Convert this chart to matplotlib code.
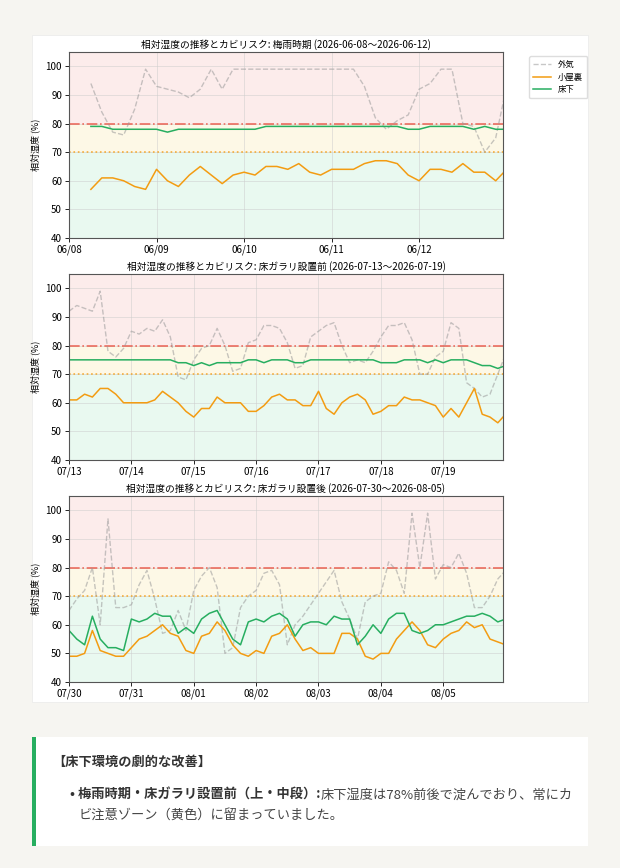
import matplotlib
matplotlib.use("Agg")
import matplotlib.pyplot as plt
import matplotlib.dates as mdates
from matplotlib.patches import Rectangle
import numpy as np
import datetime as dt

plt.rcParams['font.family'] = ['Noto Sans CJK JP', 'DejaVu Sans']

# ---- data (3-hour steps) ----
p1_start = "2026-06-08 06:00"
p1_out = [94,84,77,76,85,99, 93,92,91,89,92,99,92,99, 99,99,99,99,99,99,99,99,
          99,99,99,93,82,78,81,83, 92,94,99,99,80,79,70,75, 93]
p1_attic = [57,61,61,60,58,57, 64,60,58,62,65,62,59,62, 63,62,65,65,64,66,63,62,
            64,64,64,66,67,67,66,62, 60,64,64,63,66,63,63,60, 64]
p1_floor = [79,79,78,78,78,78, 78,77,78,78,78,78,78,78, 78,78,79,79,79,79,79,79,
            79,79,79,79,79,79,79,78, 78,79,79,79,79,78,79,78, 78]

p2_start = "2026-07-13 00:00"
p2_out = [92,94,93,92,99,78,76,79, 85,84,86,85,89,83,69,68, 75,79,80,86,80,71,72,81,
          82,87,87,86,81,72,73,83, 85,87,88,80,74,75,74,78, 83,87,87,88,82,70,70,76,
          78,88,86,67,65,62,63,70, 77]
p2_attic = [61,61,63,62,65,65,63,60, 60,60,60,61,64,62,60,57, 55,58,58,62,60,60,60,57,
            57,59,62,63,61,61,59,59, 64,58,56,60,62,63,61,56, 57,59,59,62,61,61,60,59,
            55,58,55,60,65,56,55,53, 56]
p2_floor = [75,75,75,75,75,75,75,75, 75,75,75,75,75,75,74,74, 73,74,73,74,74,74,74,75,
            75,74,75,75,75,74,74,75, 75,75,75,75,75,75,75,75, 74,74,74,75,75,75,74,75,
            74,75,75,75,74,73,73,72, 73]

p3_start = "2026-07-30 00:00"
p3_out = [65,69,72,80,60,97,66,66, 67,74,79,69,57,58,65,58, 72,77,80,73,50,52,66,70,
          72,78,79,74,53,60,63,67, 71,75,79,68,62,55,68,70, 71,82,79,71,99,80,99,76,
          81,80,85,78,66,66,70,76, 79]
p3_attic = [49,49,50,58,51,50,49,49, 52,55,56,58,60,57,56,51, 50,56,57,61,58,53,50,49,
            51,50,56,57,60,55,51,52, 50,50,50,57,57,55,49,48, 50,50,55,58,61,58,53,52,
            55,57,58,61,59,60,55,54, 53]
p3_floor = [58,55,53,63,55,52,52,51, 62,61,62,64,63,63,57,59, 57,62,64,65,60,55,53,61,
            62,61,63,64,62,56,60,61, 61,60,63,62,62,53,56,60, 57,62,64,64,58,57,58,60,
            60,61,62,63,63,64,63,61, 62]

titles = ["相対湿度の推移とカビリスク: 梅雨時期 (2026-06-08～2026-06-12)",
          "相対湿度の推移とカビリスク: 床ガラリ設置前 (2026-07-13～2026-07-19)",
          "相対湿度の推移とカビリスク: 床ガラリ設置後 (2026-07-30～2026-08-05)"]
xlims = [("2026-06-08 00:00", "2026-06-12 23:00"),
         ("2026-07-13 00:00", "2026-07-19 23:00"),
         ("2026-07-30 00:00", "2026-08-05 23:00")]
panels = [(p1_start, p1_out, p1_attic, p1_floor),
          (p2_start, p2_out, p2_attic, p2_floor),
          (p3_start, p3_out, p3_attic, p3_floor)]

fig = plt.figure(figsize=(6.2, 8.68), dpi=100)
fig.patch.set_facecolor('#f6f5f1')
fig.add_artist(Rectangle((32/620, 1-702/868), 556/620, 667/868, transform=fig.transFigure,
                         facecolor='white', edgecolor='#ececec', lw=0.6, zorder=-5))
fig.add_artist(Rectangle((32/620, 1-846/868), 556/620, 109/868, transform=fig.transFigure,
                         facecolor='white', edgecolor='none', zorder=-5))
fig.add_artist(Rectangle((32/620, 1-846/868), 4/620, 109/868, transform=fig.transFigure,
                         facecolor='#27ae60', edgecolor='none', zorder=-4))

bottoms = [1-238/868, 1-460/868, 1-682/868]
for i, (start, out, attic, floor) in enumerate(panels):
    ax = fig.add_axes([69/620, bottoms[i], 434/620, 186/868])
    t = np.datetime64(start) + np.arange(len(out)) * np.timedelta64(3, 'h')
    t = t.astype('datetime64[s]').astype(dt.datetime)
    ax.axhspan(80, 105, color='#e74c3c', alpha=0.1, lw=0)
    ax.axhspan(70, 80, color='#f1c40f', alpha=0.1, lw=0)
    ax.axhspan(40, 70, color='#2ecc71', alpha=0.1, lw=0)
    ax.axhline(80, color='#e74c3c', ls='-.', lw=1.2, alpha=0.8)
    ax.axhline(70, color='#f39c12', ls=':', lw=1.2, alpha=0.8)
    ax.plot(t, out, color='#999999', ls='--', lw=1.0, alpha=0.55, label='外気')
    ax.plot(t, attic, color='#f39c12', lw=1.1, label='小屋裏')
    ax.plot(t, floor, color='#27ae60', lw=1.1, label='床下')
    ax.set_ylim(40, 105)
    ax.set_xlim(dt.datetime.fromisoformat(xlims[i][0]), dt.datetime.fromisoformat(xlims[i][1]))
    ax.set_yticks([40, 50, 60, 70, 80, 90, 100])
    ax.xaxis.set_major_locator(mdates.DayLocator())
    ax.xaxis.set_major_formatter(mdates.DateFormatter('%m/%d'))
    ax.grid(True, color='#cccccc', lw=0.5, alpha=0.7)
    ax.tick_params(labelsize=7, length=3, width=0.6, pad=2)
    ax.set_ylabel('相対湿度 (%)', fontsize=6.5, labelpad=4)
    ax.set_title(titles[i], fontsize=7, pad=3)
    for s in ax.spines.values():
        s.set_color('#555555'); s.set_linewidth(0.8)
    if i == 0:
        ax.legend(loc='upper left', bbox_to_anchor=(1.05, 1.0), fontsize=6,
                  frameon=True, framealpha=1, edgecolor='#dddddd', handlelength=2.2,
                  borderpad=0.5, labelspacing=0.4)

fig.text(52/620, 1-762/868, '【床下環境の劇的な改善】', fontsize=9.5, fontweight='bold',
         color='#333333', va='center')
fig.text(70/620, 1-795/868, '• 梅雨時期・床ガラリ設置前（上・中段）:', fontsize=9.5, fontweight='bold',
         color='#333333', va='center')
fig.text(321/620, 1-795/868, '床下湿度は78%前後で淀んでおり、常にカ', fontsize=9.5,
         color='#444444', va='center')
fig.text(79/620, 1-815/868, 'ビ注意ゾーン（黄色）に留まっていました。', fontsize=9.5,
         color='#444444', va='center')

fig.savefig('out.png', dpi=100, facecolor=fig.get_facecolor())
